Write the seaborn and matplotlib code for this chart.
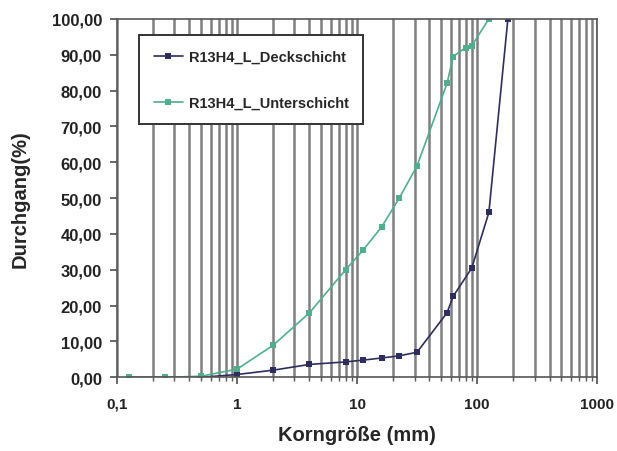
import numpy as np
import pandas as pd
import matplotlib.pyplot as plt
import seaborn as sns
from matplotlib.ticker import FuncFormatter, LogLocator, FixedLocator

# sieve sizes (mm) and passing (%)
deck_size = [0.125, 0.25, 0.5, 1, 2, 4, 8, 11.2, 16, 22.4, 31.5, 56, 63, 90, 125, 180]
deck_pass = [0.0, 0.0, 0.0, 0.8, 2.0, 3.6, 4.3, 4.8, 5.4, 6.0, 7.0, 18.0, 22.6, 30.5, 46.0, 100.0]

unter_size = [0.125, 0.25, 0.5, 1, 2, 4, 8, 11.2, 16, 22.4, 31.5, 56, 63, 80, 90, 125]
unter_pass = [0.0, 0.0, 0.3, 2.3, 9.0, 18.0, 30.0, 35.5, 42.0, 50.0, 59.0, 82.0, 89.5, 92.0, 92.5, 100.0]

labels = ['R13H4_L_Deckschicht', 'R13H4_L_Unterschicht']
colors = ['#2e2e5e', '#4fae8e']

df = pd.concat([
    pd.DataFrame({'size': deck_size, 'pass': deck_pass, 'probe': labels[0]}),
    pd.DataFrame({'size': unter_size, 'pass': unter_pass, 'probe': labels[1]}),
])

sns.set_theme(style='ticks')
plt.rcParams['font.family'] = ['Liberation Sans', 'DejaVu Sans']

fig, ax = plt.subplots(figsize=(6.17, 4.52), dpi=100)
fig.subplots_adjust(left=0.19, right=0.968, top=0.956, bottom=0.163)

ax.set_xscale('log')
ax.set_xlim(0.1, 1000)
ax.set_ylim(0, 100)

# vertical grid at every log step
ax.xaxis.set_minor_locator(LogLocator(base=10, subs=np.arange(2, 10)))
ax.grid(True, which='both', axis='x', color='#7f7f7f', lw=1.8)
ax.set_axisbelow(True)

sns.lineplot(data=df, x='size', y='pass', hue='probe', palette=colors,
             style='probe', markers=['s', 's'], dashes=False, markersize=5,
             markeredgewidth=0, lw=1.2, sort=False, ax=ax)

ax.set_yticks(np.arange(0, 101, 10))
ax.yaxis.set_major_formatter(FuncFormatter(lambda v, p: f'{v:.2f}'.replace('.', ',')))
ax.xaxis.set_major_locator(FixedLocator([0.1, 1, 10, 100, 1000]))
ax.xaxis.set_major_formatter(FuncFormatter(lambda v, p: f'{v:g}'.replace('.', ',')))

ax.tick_params(axis='y', which='major', labelsize=12, length=5, color='#555555', pad=6)
ax.tick_params(axis='x', which='major', labelsize=11, length=5, color='#555555', pad=9)
ax.tick_params(axis='x', which='minor', length=3, color='#555555')
for t in ax.get_xticklabels() + ax.get_yticklabels():
    t.set_fontweight('bold')
    t.set_color('#222222')

for s in ax.spines.values():
    s.set_color('#555555')
    s.set_linewidth(1.2)

ax.set_xlabel('Korngröße (mm)', fontsize=14.5, fontweight='bold', labelpad=10)
ax.set_ylabel('Durchgang(%)', fontsize=14.5, fontweight='bold', labelpad=16)

leg = ax.legend(loc='upper left', bbox_to_anchor=(0.03, 0.975),
                frameon=True, fancybox=False, framealpha=1, edgecolor='#333333',
                labelspacing=2.2, borderpad=1.0, handlelength=2.0, handletextpad=0.4,
                title=None, prop={'weight': 'bold', 'size': 10.5})
leg.get_frame().set_linewidth(1.4)

plt.savefig('out.png', dpi=100)
